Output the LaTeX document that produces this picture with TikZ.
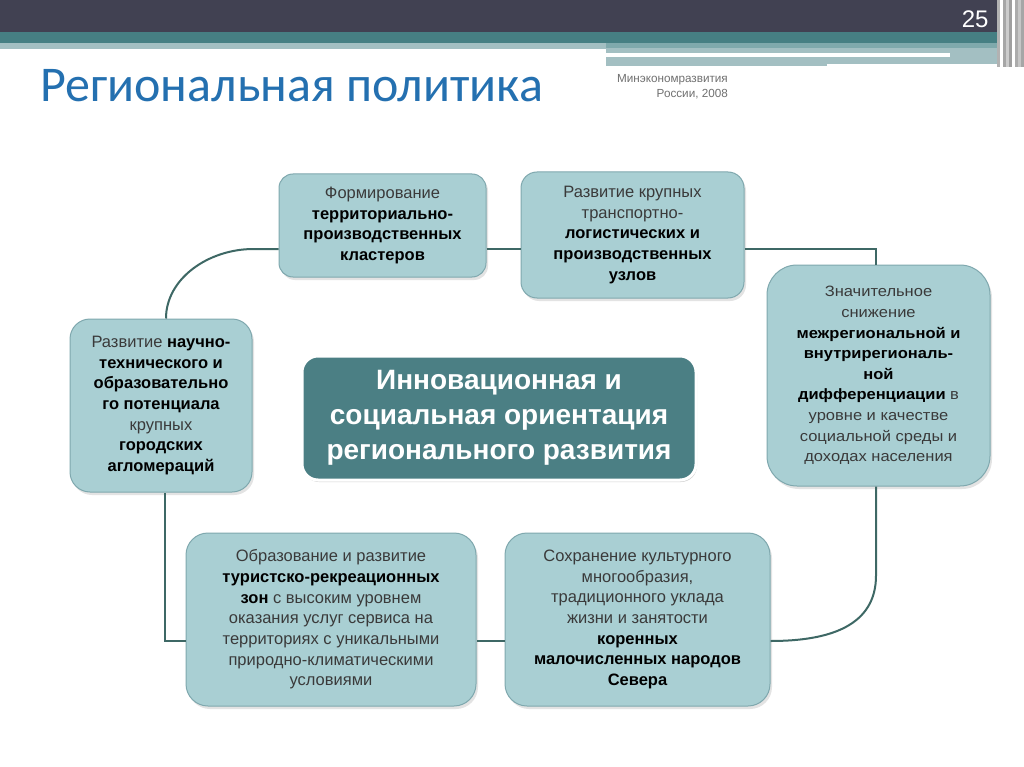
\documentclass[tikz,border=0pt]{standalone}
\usepackage{fontspec}
\setmainfont{Liberation Sans}
\newfontfamily\titlefont{Carlito}
\newfontfamily\widefont[FakeStretch=1.1]{Liberation Sans}
\usetikzlibrary{shadows}
\definecolor{hdrdark}{HTML}{414152}
\definecolor{hdrteal}{HTML}{467F83}
\definecolor{hdrmid}{HTML}{7FA9AC}
\definecolor{hdrlight}{HTML}{A3BFC2}
\definecolor{titleblue}{HTML}{2470B0}
\definecolor{boxfill}{HTML}{A9CFD3}
\definecolor{boxline}{HTML}{7FA8AE}
\definecolor{centerfill}{HTML}{4B7F84}
\definecolor{connc}{HTML}{3E6865}
\definecolor{txtgray}{HTML}{3A3A3A}
\definecolor{subgray}{HTML}{707070}
\begin{document}
\begin{tikzpicture}[x=1pt,y=-1pt,
  box/.style={draw=boxline, line width=1pt, fill=boxfill, align=center,
    text=txtgray, inner sep=0pt, font=\fontsize{16.5}{20.7}\selectfont,
    drop shadow={shadow xshift=2pt, shadow yshift=-3pt, opacity=0.22}},
  centerbox/.style={draw=white, line width=3pt, fill=centerfill, rounded corners=16pt,
    align=center, text=white, font=\fontsize{28}{35}\selectfont\bfseries,
    drop shadow={shadow xshift=1pt, shadow yshift=-2pt, opacity=0.35}},
  conn/.style={draw=connc, line width=2pt}]
\useasboundingbox (0,0) rectangle (1024,767);
\fill[white] (0,0) rectangle (1024,767);
% header
\fill[hdrdark] (0,0) rectangle (1024,32);
\fill[hdrteal] (0,32) rectangle (1024,43);
\fill[hdrlight] (0,43) rectangle (606,49);
\fill[hdrmid] (606,43) rectangle (1000,48);
\fill[hdrlight] (606,48) rectangle (1000,66);
\fill[white] (606,53) rectangle (950,57);
\fill[white] (827,64) rectangle (1000,67);
\foreach \xx/\cc in {997/gray!60,1000/white,1003/gray!70,1006/gray!40,1009/gray!75,1012/white,1015/gray!65,1018/gray!45,1021/gray!70}
  \fill[\cc] (\xx,0) rectangle ++(2.5,67);
\node[anchor=base east, text=white, font=\fontsize{24}{24}\selectfont] (pg) at (992,28) {25};
\node[anchor=base west, text=titleblue, font=\titlefont\fontsize{50}{50}\selectfont, inner sep=0pt] (title) at (40,102) {Региональная политика};
\node[anchor=north east, align=right, text=subgray, font=\fontsize{11.7}{15.5}\selectfont, inner sep=0pt] (src) at (728,74) {Минэкономразвития\\России, 2008};

% boxes
\node[box, rounded corners=14pt, minimum width=207pt, minimum height=103pt] (b1) at (382.5,225.5)
 {Формирование\\\textbf{\color{black}территориально-}\\\textbf{\color{black}производственных}\\\textbf{\color{black}кластеров}};
\node[box, rounded corners=16pt, minimum width=223pt, minimum height=126pt] (b2) at (632.5,235)
 {Развитие крупных\\транспортно-\\\textbf{\color{black}логистических и}\\\textbf{\color{black}производственных}\\\textbf{\color{black}узлов}};
\node[box, rounded corners=30pt, minimum width=223pt, minimum height=221pt, font=\widefont\fontsize{15}{20.6}\selectfont] (b3) at (878.5,375.5)
 {Значительное\\снижение\\\textbf{\color{black}межрегиональной и}\\\textbf{\color{black}внутрирегиональ-}\\\textbf{\color{black}ной}\\\textbf{\color{black}дифференциации} в\\уровне и качестве\\социальной среды и\\доходах населения};
\node[box, rounded corners=20pt, minimum width=182pt, minimum height=173pt] (b4) at (161,405.5)
 {Развитие \textbf{\color{black}научно-}\\\textbf{\color{black}технического и}\\\textbf{\color{black}образовательно}\\\textbf{\color{black}го потенциала}\\крупных\\\textbf{\color{black}городских}\\\textbf{\color{black}агломераций}};
\node[centerbox, minimum width=394pt, minimum height=124pt] (b5) at (499,418)
 {Инновационная и\\социальная ориентация\\регионального развития};
\node[box, rounded corners=22pt, minimum width=290pt, minimum height=173pt] (b6) at (331,619.5)
 {Образование и развитие\\\textbf{\color{black}туристско-рекреационных}\\\textbf{\color{black}зон} с высоким уровнем\\оказания услуг сервиса на\\территориях с уникальными\\природно-климатическими\\условиями};
\node[box, rounded corners=22pt, minimum width=265pt, minimum height=173pt] (b7) at (637.5,619.5)
 {Сохранение культурного\\многообразия,\\традиционного уклада\\жизни и занятости\\\textbf{\color{black}коренных}\\\textbf{\color{black}малочисленных народов}\\\textbf{\color{black}Севера}};

% connectors
\coordinate (ytop) at (0,249);
\coordinate (ybot) at (0,641);
\draw[conn] (b1.west |- ytop) -- ++(-25,0) .. controls +(-45,0) and +(0,-40) .. ([xshift=5pt]b4.north);
\draw[conn] (b1.east |- ytop) -- (b2.west |- ytop);
\draw[conn] (b2.east |- ytop) -| ([xshift=-2.5pt]b3.north);
\draw[conn] ([xshift=-2.5pt]b3.south) -- ++(0,89) .. controls +(0,50) and +(60,0) .. (b7.east |- ybot);
\draw[conn] (b7.west |- ybot) -- (b6.east |- ybot);
\draw[conn] (b6.west |- ybot) -| ([xshift=4pt]b4.south);
\end{tikzpicture}
\end{document}
